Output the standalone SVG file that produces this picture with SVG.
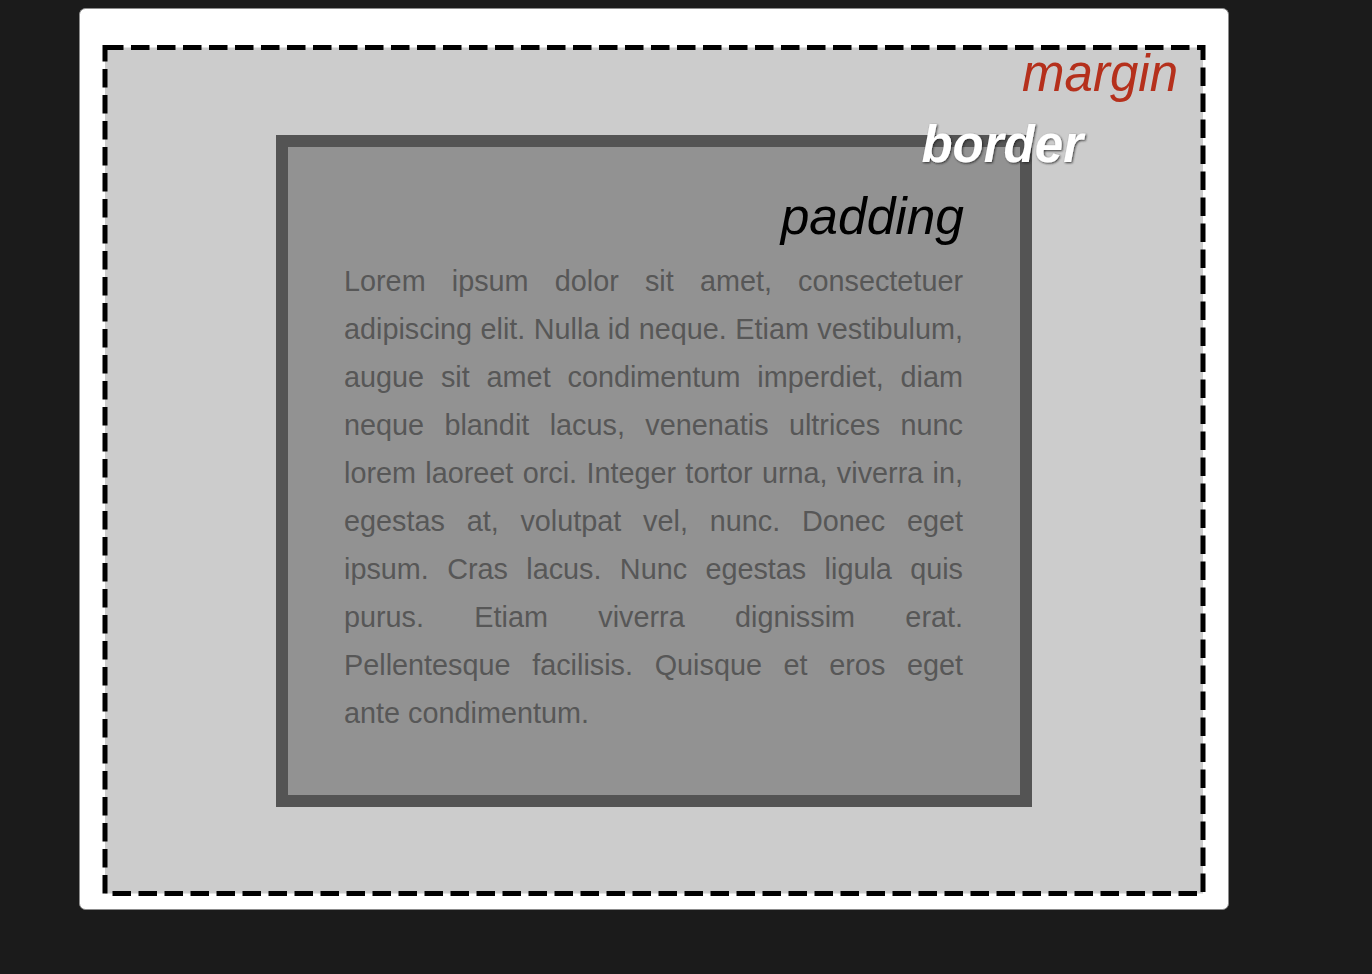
<svg xmlns="http://www.w3.org/2000/svg" width="1372" height="974" viewBox="0 0 1372 974">
  <defs>
    <style>
      .body { font-family: "Liberation Sans", Arial, Helvetica, sans-serif; font-size: 28.8px; fill: #575757; }
      .label { font-family: "Liberation Sans", Arial, Helvetica, sans-serif; font-style: italic; }
    </style>
    <filter id="shadow" x="-10%" y="-30%" width="120%" height="160%">
      <feDropShadow dx="1" dy="1" stdDeviation="1.2" flood-color="#222222" flood-opacity="0.85"/>
    </filter>
  </defs>

  <rect id="background" x="0" y="0" width="1372" height="974" fill="#1b1b1b"/>

  <g id="card">
    <rect x="79.5" y="8.5" width="1149" height="901" rx="6" ry="6" fill="#ffffff" stroke="#8c8c8c" stroke-width="1"/>
  </g>

  <g id="margin-box">
    <rect x="105" y="47.5" width="1098" height="846" fill="#cccccc" stroke="#000000" stroke-width="5" stroke-dasharray="18.5 7.5"/>
  </g>

  <g id="border-box">
    <rect x="282" y="141" width="744" height="660" fill="#929292" stroke="#545454" stroke-width="12"/>
  </g>

  <g id="content">
    <text class="body" x="344" y="291" word-spacing="18.15" textLength="619" lengthAdjust="spacing">Lorem ipsum dolor sit amet, consectetuer</text>
    <text class="body" x="344" y="339" word-spacing="0.46" textLength="619" lengthAdjust="spacing">adipiscing elit. Nulla id neque. Etiam vestibulum,</text>
    <text class="body" x="344" y="387" word-spacing="8.87" textLength="619" lengthAdjust="spacing">augue sit amet condimentum imperdiet, diam</text>
    <text class="body" x="344" y="435" word-spacing="12.39" textLength="619" lengthAdjust="spacing">neque blandit lacus, venenatis ultrices nunc</text>
    <text class="body" x="344" y="483" word-spacing="1.31" textLength="619" lengthAdjust="spacing">lorem laoreet orci. Integer tortor urna, viverra in,</text>
    <text class="body" x="344" y="531" word-spacing="13.78" textLength="619" lengthAdjust="spacing">egestas at, volutpat vel, nunc. Donec eget</text>
    <text class="body" x="344" y="579" word-spacing="10.33" textLength="619" lengthAdjust="spacing">ipsum. Cras lacus. Nunc egestas ligula quis</text>
    <text class="body" x="344" y="627" word-spacing="42.32" textLength="619" lengthAdjust="spacing">purus. Etiam viverra dignissim erat.</text>
    <text class="body" x="344" y="675" word-spacing="13.67" textLength="619" lengthAdjust="spacing">Pellentesque facilisis. Quisque et eros eget</text>
    <text class="body" x="344" y="723">ante condimentum.</text>
  </g>

  <g id="label-padding">
    <text class="label" x="964" y="234" text-anchor="end" font-size="51.5" fill="#000000">padding</text>
  </g>

  <g id="label-border">
    <text class="label" x="1083" y="162" text-anchor="end" font-size="51" font-weight="bold" fill="#ffffff" filter="url(#shadow)">border</text>
  </g>

  <g id="label-margin">
    <text class="label" x="1178" y="91" text-anchor="end" font-size="51" fill="#b5301c">margin</text>
  </g>

  <g id="connectors"></g>
</svg>
